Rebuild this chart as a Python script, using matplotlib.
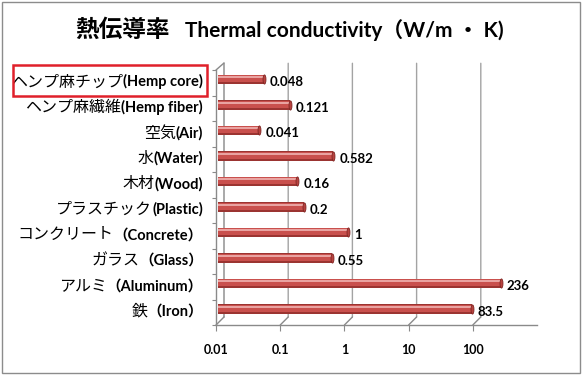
import matplotlib
matplotlib.use('Agg')
import matplotlib.pyplot as plt
import matplotlib.patches as mpatches
from matplotlib.path import Path
from matplotlib.ticker import NullLocator
from matplotlib.transforms import ScaledTranslation
import numpy as np

# data, top row first
names_jp = ['ヘンプ麻チップ', 'ヘンプ麻繊維', '空気', '水', '木材',
            'プラスチック', 'コンクリート', 'ガラス', 'アルミ', '鉄']
names_en = ['(Hemp core)', '(Hemp fiber)', '(Air)', '(Water)', '(Wood)',
            '(Plastic)', '（Concrete）', '（Glass）', '（Aluminum）', '（Iron）']
conductivity = [0.048, 0.121, 0.041, 0.582, 0.16, 0.2, 1, 0.55, 236, 83.5]
x_ticks = [0.01, 0.1, 1, 10, 100]
x_tick_labels = ['0.01', '0.1', '1', '10', '100']

JP = 'Noto Sans CJK JP'
EN = ['Lato', 'Noto Sans CJK JP']
GRID = '#a3a3a3'
AXIS = '#8a8a8a'

W, H = 583, 376
fig = plt.figure(figsize=(W / 100, H / 100), dpi=100)
fig.patch.set_facecolor('white')

# plot area in pixels: x 216..537, y 70..325 (from top)
ax = fig.add_axes([216 / W, (H - 325) / H, 321 / W, 255 / H])
ax.set_facecolor('none')
ax.set_xscale('log')
ax.set_xlim(0.01, 1000)
ax.set_ylim(-0.63, 9.37)

n = len(conductivity)
ys = np.arange(n)[::-1]
vals = np.array(conductivity)

# walls of the pseudo 3d box
xt = ax.get_xaxis_transform()
back = ScaledTranslation(0.08, 0.08, fig.dpi_scale_trans)
line = dict(arrowstyle='-', lw=1, shrinkA=0, shrinkB=0)
for x in x_ticks + [0.01]:
    ax.annotate('', xy=(x, 0), xycoords=xt + back, xytext=(x, 0.995), textcoords=xt + back,
                arrowprops=dict(line, color=GRID), zorder=0)
for x in x_ticks:
    ax.annotate('', xy=(x, 0), xycoords=xt, xytext=(8, 8), textcoords='offset pixels',
                arrowprops=dict(line, color=AXIS))
ax.annotate('', xy=(0, 1), xycoords='axes fraction', xytext=(8, 7), textcoords='offset pixels',
            arrowprops=dict(line, color=AXIS))

for side in ['top', 'right']:
    ax.spines[side].set_visible(False)
for side in ['left', 'bottom']:
    ax.spines[side].set_color(AXIS)
    ax.spines[side].set_linewidth(1)

ax.xaxis.set_minor_locator(NullLocator())
ax.set_xticks(x_ticks)
ax.set_xticklabels(x_tick_labels, fontweight='bold', family=EN, fontsize=9)
ax.tick_params(axis='x', length=4, color=AXIS, pad=10)
ax.set_yticks(np.arange(n + 1) - 0.63)
ax.set_yticklabels([])
ax.tick_params(axis='y', length=3, color=AXIS)

# cylinder-ish bars, pushed a little into the box
mid = ax.transData + ScaledTranslation(0.04, 0, fig.dpi_scale_trans)
left = 0.0093
bar_kw = dict(left=left, transform=mid, clip_on=False, zorder=3)
ax.barh(ys, vals - left, height=0.36, color='#9b3431', **bar_kw)
ax.barh(ys + 0.03, vals - left, height=0.27, color='#c9504d', **bar_kw)
ax.barh(ys + 0.09, vals - left, height=0.08, color='#e9a3a1', **bar_kw)
cap = Path.unit_circle()
cap = Path(cap.vertices * [0.32, 1.0], cap.codes)
ax.plot(vals, ys, ls='none', marker=cap, ms=6.6, mfc='#b8423f', mec='#7e2522',
        mew=0.6, transform=mid, clip_on=False, zorder=4)

for v, y in zip(vals, ys):
    ax.annotate(f'{v:g}', xy=(v, y), xytext=(10, -3), textcoords='offset pixels',
                ha='left', va='center', fontweight='bold', family=EN, fontsize=9.5)

# category labels: bold latin part, regular japanese part
renderer = fig.canvas.get_renderer()
for jp, en, y in zip(names_jp, names_en, ys):
    t = ax.annotate(en, xy=(0, y), xycoords=('axes fraction', 'data'), xytext=(-13, -7),
                    textcoords='offset pixels', ha='right', va='baseline',
                    fontweight='bold', family=EN, fontsize=10.5)
    w = t.get_window_extent(renderer).width
    ax.annotate(jp, xy=(0, y), xycoords=('axes fraction', 'data'), xytext=(-13 - w, -7),
                textcoords='offset pixels', ha='right', va='baseline',
                family=JP, fontsize=11.5)

# title
fig.text(185 / W, (H - 37) / H, 'Thermal conductivity（W/m ・ K)', ha='left', va='baseline',
         fontweight='bold', family=EN, fontsize=15)
fig.text(170 / W, (H - 37) / H, '熱伝導率', ha='right', va='baseline',
         fontweight='bold', family=JP, fontsize=17)

# highlight box round the first label and chart border
fig.patches.append(mpatches.Rectangle((13 / W, (H - 96) / H), 194 / W, 31 / H,
                                      transform=fig.transFigure, fill=False,
                                      edgecolor='#e0202a', lw=1.8))
fig.patches.append(mpatches.Rectangle((2 / W, 3 / H), 578 / W, 371 / H,
                                      transform=fig.transFigure, fill=False,
                                      edgecolor='#8c8c8c', lw=1))

fig.savefig('out.png', dpi=100)
